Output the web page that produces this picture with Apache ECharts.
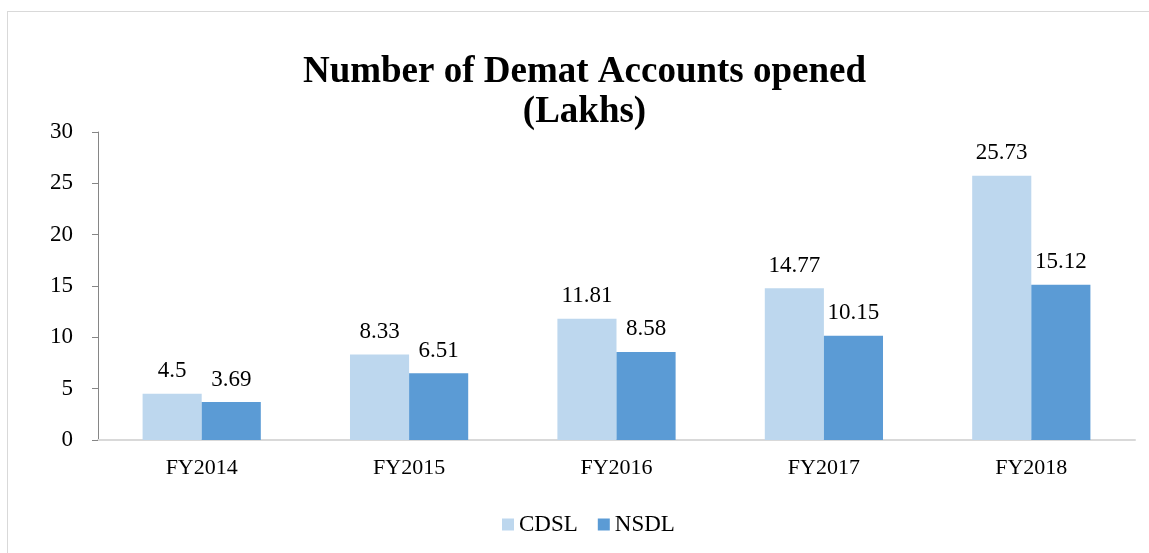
<!DOCTYPE html>
<html>
<head>
<meta charset="utf-8">
<script src="https://cdn.jsdelivr.net/npm/echarts@6/dist/echarts.min.js"></script>
<style>
  html, body { margin: 0; padding: 0; background: #fff; }
  #main { width: 1149px; height: 553px; }
  #frame { position: absolute; left: 7px; top: 11px; width: 1160px; height: 560px; border: 1px solid #d9d9d9; pointer-events: none; }
</style>
</head>
<body>
<div id="main"></div>
<div id="frame"></div>
<script>
const categories = ['FY2014', 'FY2015', 'FY2016', 'FY2017', 'FY2018'];
const cdsl = [4.5, 8.33, 11.81, 14.77, 25.73];
const nsdl = [3.69, 6.51, 8.58, 10.15, 15.12];

const serif = '"Liberation Serif", "Times New Roman", serif';
const chart = echarts.init(document.getElementById('main'));

const labelStyle = {
  show: true,
  position: 'top',
  distance: 11,
  color: '#000',
  fontFamily: serif,
  fontSize: 23
};

chart.setOption({
  animation: false,
  title: {
    text: 'Number of Demat Accounts opened\n(Lakhs)',
    // textAlign center: left is the centre of the text (plus padding)
    left: 579.5,
    top: 47,
    textAlign: 'center',
    textStyle: {
      fontFamily: serif,
      fontWeight: 'bold',
      fontSize: 37,
      color: '#000',
      lineHeight: 40
    }
  },
  legend: {
    bottom: 12,
    left: 497,
    itemWidth: 12,
    itemHeight: 12,
    itemGap: 20,
    icon: 'rect',
    textStyle: { fontFamily: serif, fontSize: 23, color: '#000' },
    data: ['CDSL', 'NSDL']
  },
  grid: { left: 98, right: 14, top: 132, bottom: 113 },
  xAxis: {
    type: 'category',
    data: categories,
    axisLine: { lineStyle: { color: '#d9d9d9', width: 2 } },
    axisTick: { show: false },
    axisLabel: { fontFamily: serif, fontSize: 22, color: '#000', margin: 17 }
  },
  yAxis: {
    type: 'value',
    min: 0,
    max: 30,
    interval: 5,
    axisLine: { show: true, lineStyle: { color: '#868686' } },
    axisTick: { show: true, length: 6, lineStyle: { color: '#868686' } },
    splitLine: { show: false },
    axisLabel: { fontFamily: serif, fontSize: 23, color: '#000', margin: 25 }
  },
  series: [
    {
      name: 'CDSL',
      type: 'bar',
      data: cdsl,
      barGap: '0%',
      barCategoryGap: '43%',
      itemStyle: { color: '#BDD7EE' },
      label: labelStyle
    },
    {
      name: 'NSDL',
      type: 'bar',
      data: nsdl,
      itemStyle: { color: '#5B9BD5' },
      label: labelStyle
    }
  ]
});
</script>
</body>
</html>
